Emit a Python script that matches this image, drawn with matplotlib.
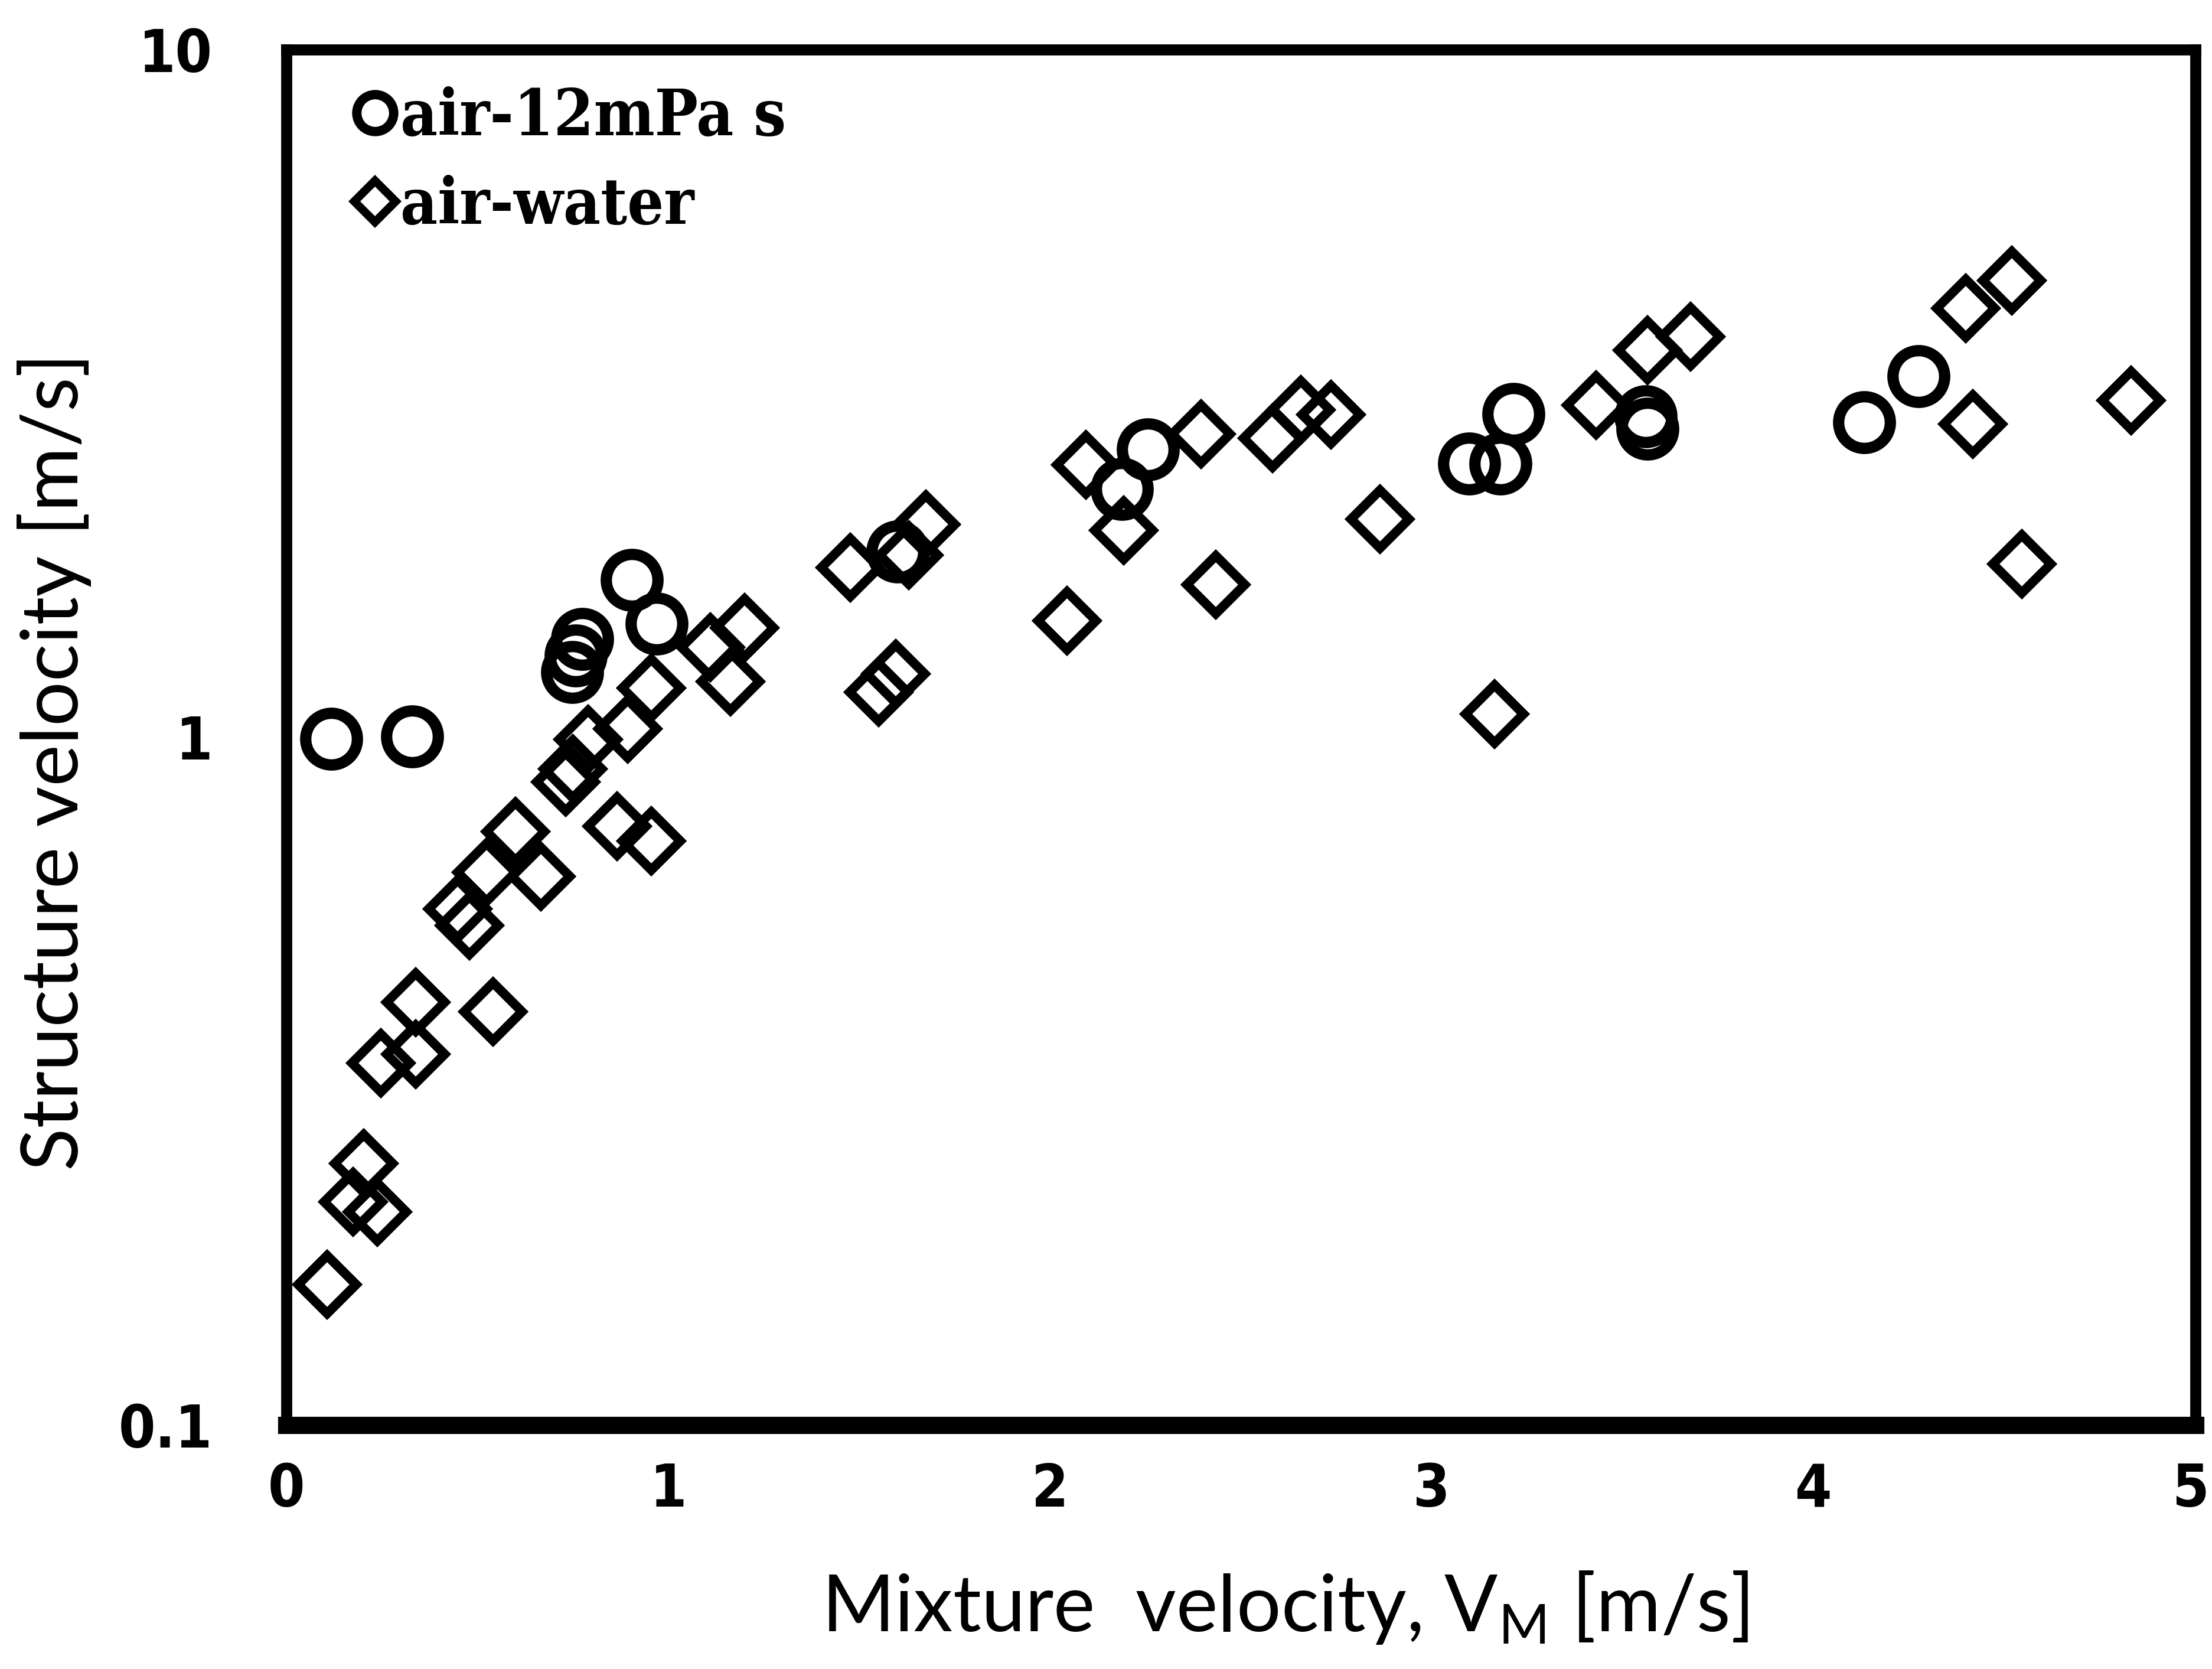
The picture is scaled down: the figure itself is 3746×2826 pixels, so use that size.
import matplotlib
matplotlib.use("Agg")
import matplotlib.pyplot as plt
from matplotlib.lines import Line2D
from matplotlib.transforms import ScaledTranslation

# air-12mPa s (circles)
VISC_X = [0.118, 0.33, 0.774, 0.758, 0.749, 0.905, 0.97, 1.60, 2.188, 2.256,
          3.097, 3.18, 3.214, 3.56, 3.565, 4.133, 4.275]
VISC_Y = [0.994, 1.003, 1.388, 1.315, 1.243, 1.693, 1.463, 1.86, 2.295, 2.62,
          2.50, 2.50, 2.95, 2.93, 2.81, 2.87, 3.35]

# air-water (diamonds)
WATER_X = [0.106, 0.203, 0.175, 0.238, 0.248, 0.338, 0.338, 0.541, 0.449, 0.48,
           0.524, 0.60, 0.666, 0.731, 0.75, 0.79, 0.894, 0.866, 0.956, 0.956,
           1.11, 1.163, 1.20, 1.477, 1.551, 1.596, 1.63, 1.675, 2.045, 2.094,
           2.193, 2.395, 2.434, 2.583, 2.657, 2.736, 2.864, 3.165, 3.431, 3.565,
           3.678, 4.398, 4.519, 4.417, 4.545, 4.832]
WATER_Y = [0.160, 0.240, 0.211, 0.204, 0.336, 0.346, 0.412, 0.399, 0.563, 0.532,
           0.636, 0.729, 0.627, 0.861, 0.90, 0.992, 1.028, 0.742, 0.707, 1.178,
           1.35, 1.205, 1.443, 1.763, 1.163, 1.237, 1.84, 2.04, 1.477, 2.49,
           2.0, 2.756, 1.665, 2.722, 2.99, 2.944, 2.075, 1.08, 3.04, 3.65,
           3.82, 4.2, 4.61, 2.855, 1.785, 3.09]

X_TICKS = [0, 1, 2, 3, 4, 5]
Y_TICKS = [0.1, 1, 10]
Y_TICKLABELS = ["0.1", "1", "10"]

TICK_FONT = ["DejaVu Sans"]
LABEL_FONT = ["Lato", "DejaVu Sans"]
LEGEND_FONT = ["DejaVu Serif"]

fig = plt.figure(figsize=(3746 / 300, 2826 / 300), dpi=300)
ax = fig.add_axes([0.1295, 0.1462, 0.863, 0.8242])

ax.plot(WATER_X, WATER_Y, linestyle="none", marker="D", markersize=16.5,
        markerfacecolor="none", markeredgecolor="black", markeredgewidth=3.8)
ax.plot(VISC_X, VISC_Y, linestyle="none", marker="o", markersize=21,
        markerfacecolor="none", markeredgecolor="black", markeredgewidth=4.6)

ax.set_yscale("log")
ax.set_xlim(0, 5)
ax.set_ylim(0.1, 10)
ax.set_xticks(X_TICKS)
ax.set_xticklabels([str(t) for t in X_TICKS], family=TICK_FONT,
                   fontweight="bold", fontstretch="condensed", fontsize=24)
ax.set_yticks(Y_TICKS)
ax.set_yticklabels(Y_TICKLABELS, family=TICK_FONT, fontweight="bold",
                   fontstretch="condensed", fontsize=24)
ax.minorticks_off()
ax.tick_params(axis="x", length=0, pad=15)
ax.tick_params(axis="y", length=0, pad=30)

# last x label sits just inside the right edge
last = ax.get_xticklabels()[-1]
last.set_transform(last.get_transform() + ScaledTranslation(-0.03, 0, fig.dpi_scale_trans))

for side in ["left", "right", "top"]:
    ax.spines[side].set_linewidth(4.5)
ax.spines["bottom"].set_linewidth(7)

ax.set_xlabel(r"Mixture  velocity, V$_\mathregular{M}$ [m/s]", family=LABEL_FONT,
              fontsize=32)
ax.xaxis.set_label_coords(0.523, -0.105)
ax.set_ylabel("Structure velocity [m/s]", family=LABEL_FONT, fontsize=32)
ax.yaxis.set_label_coords(-0.102, 0.482)

handles = [
    Line2D([], [], linestyle="none", marker="o", markersize=15,
           markerfacecolor="none", markeredgecolor="black", markeredgewidth=3.8),
    Line2D([], [], linestyle="none", marker="D", markersize=12,
           markerfacecolor="none", markeredgecolor="black", markeredgewidth=3.4),
]
ax.legend(handles, ["air-12mPa s", "air-water"], loc="upper left",
          bbox_to_anchor=(0.006, 1.015), frameon=False, handlelength=0.6,
          handletextpad=0.1, labelspacing=0.4,
          prop={"family": LEGEND_FONT, "weight": "bold", "stretch": "condensed",
                "size": 26})

fig.savefig("out.png", dpi=300)
